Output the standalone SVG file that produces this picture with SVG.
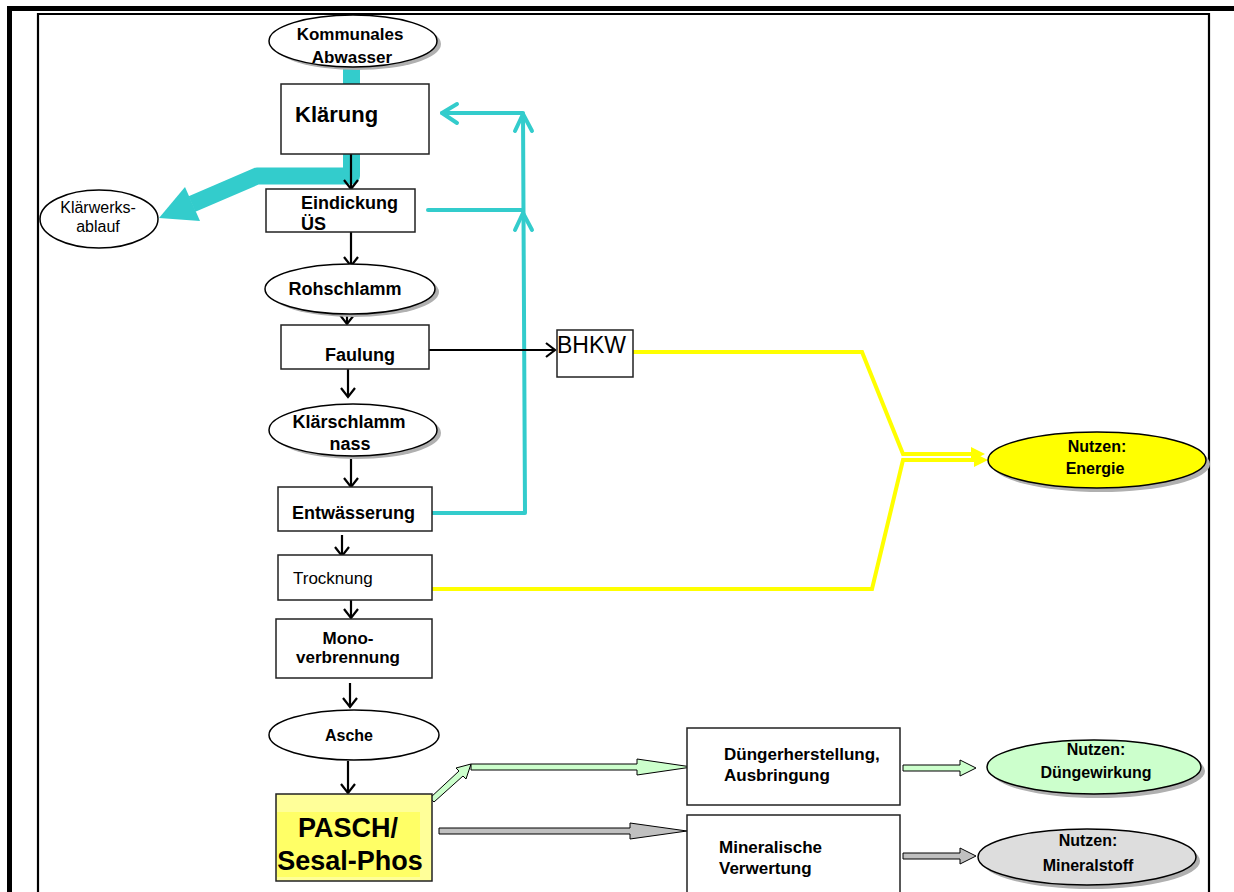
<svg xmlns="http://www.w3.org/2000/svg" width="1234" height="892" viewBox="0 0 1234 892">
<defs>
<style>
.t{font-family:"Liberation Sans",Arial,sans-serif;fill:#000}
.b{font-weight:bold}
.box{fill:#fff;stroke:#222;stroke-width:1.5}
.ell{fill:#fff;stroke:#000;stroke-width:1.5}
.sh{fill:#b0b0b0}
.blk{fill:none;stroke:#000;stroke-width:2.2}
.teal{fill:none;stroke:#33cccc;stroke-width:4;stroke-linejoin:round;stroke-linecap:round}
.yel{fill:none;stroke:#ffff00;stroke-width:4;stroke-linejoin:miter}
</style>
<marker id="ah" markerWidth="12" markerHeight="16" refX="10" refY="8" orient="auto" markerUnits="userSpaceOnUse">
<path d="M1,1 L10,8 L1,15" fill="none" stroke="#000" stroke-width="2.2"/>
</marker>
</defs>
<rect width="1234" height="892" fill="#fff"/>
<g id="frame">
<rect x="7" y="6" width="1227" height="5" fill="#000"/>
<rect x="7" y="6" width="5" height="886" fill="#000"/>
<path d="M38,900 V14 H1209 V900" fill="none" stroke="#000" stroke-width="2.2"/>
</g>
<g id="connectors">
<rect x="343" y="66" width="17" height="19" fill="#33cccc"/>
<polyline points="351.5,154 351.5,176 257,176 192,204" fill="none" stroke="#33cccc" stroke-width="17" stroke-linejoin="round"/>
<polygon points="159,218 185,187 200,221" fill="#33cccc"/>
<path class="teal" d="M432,513 H525 L523,113 H442"/>
<path class="teal" d="M428,210 H523"/>
<path class="teal" d="M457,104 L442,113 L457,123"/>
<path class="teal" d="M515,131 L523,114 L532,131"/>
<path class="teal" d="M515,230 L523,213 L532,230"/>
<line class="blk" x1="351" y1="154" x2="351" y2="189" marker-end="url(#ah)"/>
<line class="blk" x1="351" y1="232" x2="351" y2="266" marker-end="url(#ah)"/>
<line class="blk" x1="347" y1="314" x2="347" y2="324" marker-end="url(#ah)"/>
<line class="blk" x1="348" y1="369" x2="348" y2="397" marker-end="url(#ah)"/>
<line class="blk" x1="351" y1="459" x2="351" y2="487" marker-end="url(#ah)"/>
<line class="blk" x1="342" y1="535" x2="342" y2="556" marker-end="url(#ah)"/>
<line class="blk" x1="351" y1="600" x2="351" y2="618" marker-end="url(#ah)"/>
<line class="blk" x1="350" y1="683" x2="350" y2="707" marker-end="url(#ah)"/>
<line class="blk" x1="348" y1="761" x2="348" y2="793" marker-end="url(#ah)"/>
<line class="blk" x1="428" y1="350" x2="555" y2="350" marker-end="url(#ah)"/>
<polyline class="yel" points="633,352 862,352 903,454 973,454"/>
<polygon points="971,447 985,454 971,461" fill="#ffff00"/>
<polyline class="yel" points="432,589 872,589 903,460 976,460"/>
<polygon points="974,453 988,460 974,467" fill="#ffff00"/>
<polygon points="434,802 463,776 466,779 471,764 456,768 459,771 430,798" fill="#ccffcc" stroke="#000" stroke-width="1"/>
<polygon points="471,764 637,764 637,759 692,767 637,775 637,770 471,770" fill="#ccffcc" stroke="#000" stroke-width="1"/>
<polygon points="903,765 960,765 960,760 976,768 960,776 960,771 903,771" fill="#ccffcc" stroke="#000" stroke-width="1"/>
<polygon points="439,828 630,828 630,823 687,831 630,839 630,834 439,834" fill="#c0c0c0" stroke="#000" stroke-width="1"/>
<polygon points="903,853 960,853 960,848 976,856 960,864 960,859 903,859" fill="#c0c0c0" stroke="#000" stroke-width="1"/>
</g>
<g id="n-abwasser">
<ellipse class="sh" cx="357" cy="44" rx="84" ry="26"/>
<ellipse class="ell" cx="353" cy="41" rx="84" ry="26"/>
<text class="t b" x="350" y="40" font-size="17" text-anchor="middle">Kommunales</text>
<text class="t b" x="352" y="63" font-size="17" text-anchor="middle">Abwasser</text>
</g>
<g id="n-klaerung">
<rect class="box" x="281" y="84" width="148" height="70"/>
<text class="t b" x="295" y="122" font-size="22">Klärung</text>
</g>
<g id="n-klaerwerksablauf">
<ellipse class="ell" cx="99" cy="219" rx="59" ry="29"/>
<text class="t" x="98" y="213" font-size="16" text-anchor="middle">Klärwerks-</text>
<text class="t" x="98" y="232" font-size="16" text-anchor="middle">ablauf</text>
</g>
<g id="n-eindickung">
<rect class="box" x="266" y="189" width="149" height="43"/>
<text class="t b" x="301" y="209" font-size="18">Eindickung</text>
<text class="t b" x="301" y="230" font-size="18">ÜS</text>
</g>
<g id="n-rohschlamm">
<ellipse class="sh" cx="354" cy="292" rx="85" ry="25"/>
<ellipse class="ell" cx="350" cy="289" rx="85" ry="25"/>
<text class="t b" x="345" y="295" font-size="18" text-anchor="middle">Rohschlamm</text>
</g>
<g id="n-faulung">
<rect class="box" x="281" y="325" width="148" height="44"/>
<text class="t b" x="360" y="361" font-size="18" text-anchor="middle">Faulung</text>
</g>
<g id="n-bhkw">
<rect class="box" x="557" y="330" width="76" height="47"/>
<text class="t" x="557" y="353" font-size="23">BHKW</text>
</g>
<g id="n-klaerschlamm">
<ellipse class="sh" cx="357" cy="433" rx="84" ry="26"/>
<ellipse class="ell" cx="353" cy="430" rx="84" ry="26"/>
<text class="t b" x="349" y="428" font-size="18" text-anchor="middle">Klärschlamm</text>
<text class="t b" x="350" y="450" font-size="18" text-anchor="middle">nass</text>
</g>
<g id="n-entwaesserung">
<rect class="box" x="278" y="487" width="154" height="44"/>
<text class="t b" x="292" y="519" font-size="18">Entwässerung</text>
</g>
<g id="n-trocknung">
<rect class="box" x="278" y="555" width="154" height="45"/>
<text class="t" x="293" y="584" font-size="17">Trocknung</text>
</g>
<g id="n-mono">
<rect class="box" x="276" y="619" width="156" height="59"/>
<text class="t b" x="348" y="644" font-size="17" text-anchor="middle">Mono-</text>
<text class="t b" x="348" y="663" font-size="17" text-anchor="middle">verbrennung</text>
</g>
<g id="n-asche">
<ellipse class="ell" cx="354" cy="735" rx="85" ry="25"/>
<text class="t b" x="349" y="741" font-size="16" text-anchor="middle">Asche</text>
</g>
<g id="n-pasch">
<rect x="276" y="794" width="156" height="87" fill="#ffff99" stroke="#222" stroke-width="1.5"/>
<rect x="277" y="812" width="143" height="65" fill="#ffff66"/>
<text class="t b" x="348" y="837" font-size="27" text-anchor="middle">PASCH/</text>
<text class="t b" x="350" y="870" font-size="27" text-anchor="middle">Sesal-Phos</text>
</g>
<g id="n-energie">
<ellipse class="sh" cx="1101" cy="464" rx="109" ry="28"/>
<ellipse cx="1097" cy="460" rx="109" ry="28" fill="#ffff00" stroke="#000" stroke-width="1.5"/>
<text class="t b" x="1097" y="452" font-size="16" text-anchor="middle">Nutzen:</text>
<text class="t b" x="1095" y="474" font-size="16" text-anchor="middle">Energie</text>
</g>
<g id="n-duenger">
<rect class="box" x="687" y="728" width="213" height="77"/>
<text class="t b" x="724" y="760" font-size="17">Düngerherstellung,</text>
<text class="t b" x="724" y="781" font-size="17">Ausbringung</text>
</g>
<g id="n-mineralisch">
<rect class="box" x="687" y="815" width="213" height="80"/>
<text class="t b" x="719" y="853" font-size="17">Mineralische</text>
<text class="t b" x="719" y="874" font-size="17">Verwertung</text>
</g>
<g id="n-duengewirkung">
<ellipse class="sh" cx="1098" cy="771" rx="107" ry="27"/>
<ellipse cx="1094" cy="767" rx="107" ry="27" fill="#ccffcc" stroke="#000" stroke-width="1.5"/>
<text class="t b" x="1096" y="755" font-size="16" text-anchor="middle">Nutzen:</text>
<text class="t b" x="1096" y="778" font-size="16" text-anchor="middle">Düngewirkung</text>
</g>
<g id="n-mineralstoff">
<ellipse class="sh" cx="1091" cy="861" rx="109" ry="28"/>
<ellipse cx="1087" cy="857" rx="109" ry="28" fill="#dddddd" stroke="#000" stroke-width="1.5"/>
<text class="t b" x="1088" y="846" font-size="16" text-anchor="middle">Nutzen:</text>
<text class="t b" x="1088" y="871" font-size="16" text-anchor="middle">Mineralstoff</text>
</g>
</svg>
